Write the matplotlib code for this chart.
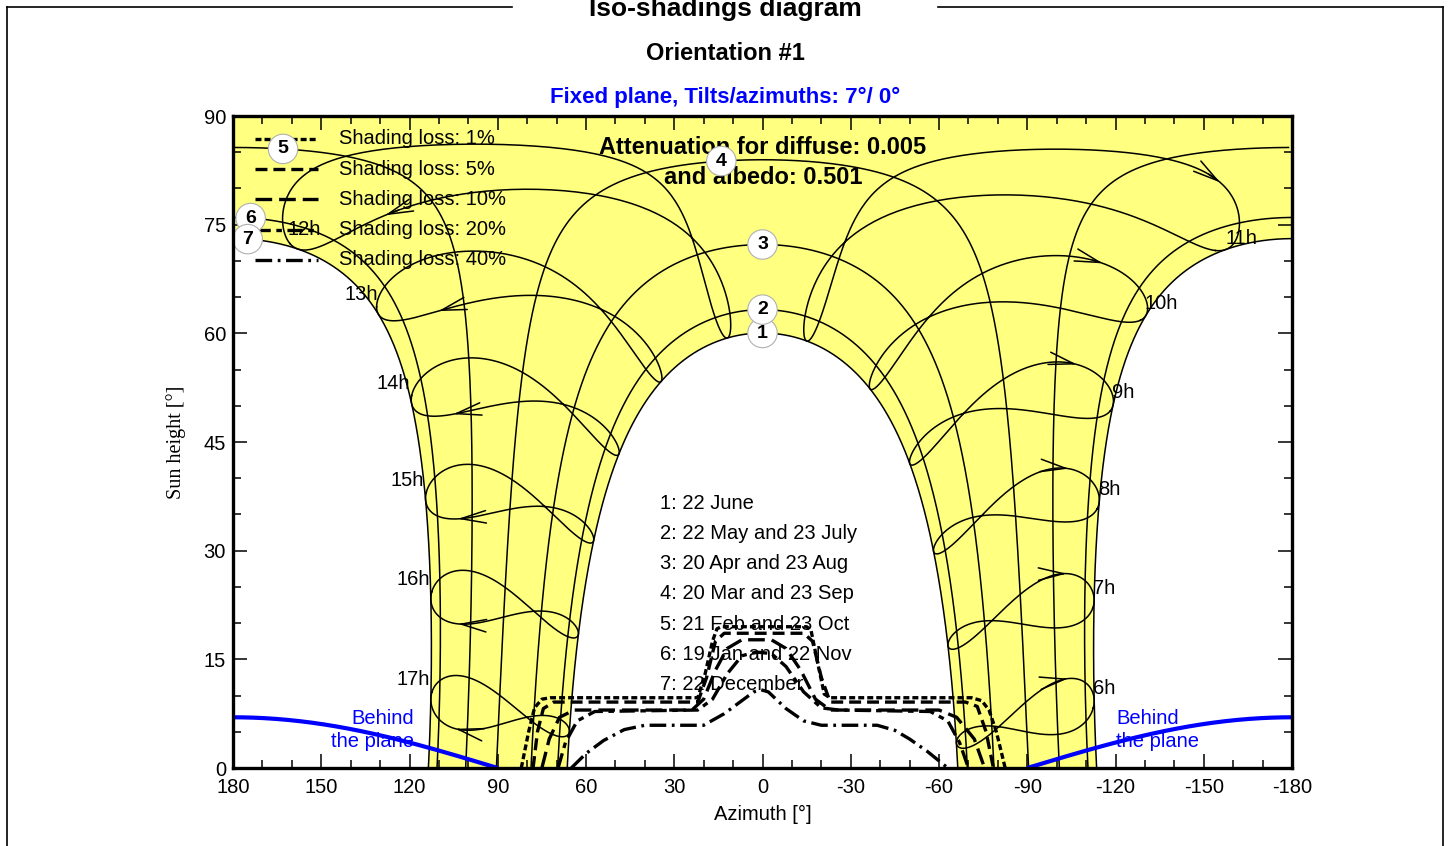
import matplotlib.pyplot as plt
import numpy as np
from matplotlib.lines import Line2D

plt.rcParams['font.family'] = ['Liberation Sans', 'DejaVu Sans']
plt.rcParams['lines.scale_dashes'] = False

# site and plane
LATITUDE = -6.5
LONGITUDE = 112.0
TIME_ZONE = 7.0
PLANE_TILT = 7.0

# reference days for the sun paths (day of year)
DATE_LABELS = ['22 June', '22 May and 23 July', '20 Apr and 23 Aug', '20 Mar and 23 Sep',
               '21 Feb and 23 Oct', '19 Jan and 22 Nov', '22 December']
DATE_DAYS = [173, 142, 110, 79, 52, 19, 356]
DATE_MARK_AZ = [0, 0, 0, 14, 163, 174, 175]

# legal hours drawn as analemmas
HOURS = [6, 7, 8, 9, 10, 11, 12, 13, 14, 15, 16, 17]

# iso-shading contours (azimuth, height)
SHADING_LABELS = ['Shading loss: 1%', 'Shading loss: 5%', 'Shading loss: 10%',
                  'Shading loss: 20%', 'Shading loss: 40%']
LOSS_1_AZ = [82, 79.5, 77.5, 75, 72, 22, 19.5, 17, 15.5, 14, -15, -16.5, -18.5, -21, -23, -71, -74.5, -77, -79.5, -82.5]
LOSS_1_H = [0, 5, 8.3, 9.5, 9.7, 9.7, 13, 17.5, 19.2, 19.5, 19.5, 19, 15, 10.2, 9.7, 9.7, 9.3, 8, 5, 0]
LOSS_5_AZ = [78, 76.5, 74.5, 71, 22, 19, 16, 13, -14, -17, -20, -23, -69, -73, -76, -78.5]
LOSS_5_H = [0, 5, 8.2, 9.1, 9.1, 12.5, 17.5, 18.6, 18.6, 17.5, 12.5, 9.1, 9.1, 8.5, 5, 0]
LOSS_10_AZ = [75, 72.5, 69, 64, 24, 20, 16, 12, 7, -3, -8, -13, -18, -23, -60, -66, -72, -75.5]
LOSS_10_H = [0, 4, 7, 8.0, 8.0, 9.5, 13.5, 16.5, 17.7, 17.7, 16.5, 13.5, 9.5, 8.0, 8.0, 7, 4, 0]
LOSS_20_AZ = [69.5, 67, 63, 57, 22, 17, 12, 7, 2, -3, -8, -14, -20, -26, -57, -63, -67, -70]
LOSS_20_H = [0, 3.5, 6.5, 7.8, 8.0, 9.5, 13, 15.5, 16.0, 15.8, 14, 10.5, 8.3, 8.0, 7.8, 6.5, 3.5, 0]
LOSS_40_AZ = [65, 60, 54, 47, 40, 20, 13, 7, 3, 0.5, -2, -8, -14, -20, -39, -45, -50, -56, -63]
LOSS_40_H = [0, 2, 3.8, 5.3, 5.9, 5.9, 7.5, 9.3, 10.5, 10.8, 10.5, 8.2, 6.5, 5.9, 5.9, 5.2, 4, 2.3, 0]
LOSS_AZ = [LOSS_1_AZ, LOSS_5_AZ, LOSS_10_AZ, LOSS_20_AZ, LOSS_40_AZ]
LOSS_H = [LOSS_1_H, LOSS_5_H, LOSS_10_H, LOSS_20_H, LOSS_40_H]
LOSS_DASHES = [(0, (4.3, 2.2)), (0, (8.6, 4.3)), (0, (12, 5)), (0, (11, 4, 4, 4)), (0, (12, 4, 2, 4))]

YELLOW = '#ffff80'
BLUE = '#0000ff'
FS = 14.5


def declination(day):
    b = 2 * np.pi * (np.asarray(day) - 1) / 365.0
    return np.degrees(0.006918 - 0.399912 * np.cos(b) + 0.070257 * np.sin(b)
                      - 0.006758 * np.cos(2 * b) + 0.000907 * np.sin(2 * b)
                      - 0.002697 * np.cos(3 * b) + 0.00148 * np.sin(3 * b))


def equation_of_time(day):
    b = 2 * np.pi * (np.asarray(day) - 1) / 365.0
    return 229.18 * (0.000075 + 0.001868 * np.cos(b) - 0.032077 * np.sin(b)
                     - 0.014615 * np.cos(2 * b) - 0.04089 * np.sin(2 * b))


def sun_position(decl, hour_angle):
    d = np.radians(decl)
    h = np.radians(hour_angle)
    p = np.radians(LATITUDE)
    west = np.cos(d) * np.sin(h)
    north = np.sin(d) * np.cos(p) - np.cos(d) * np.cos(h) * np.sin(p)
    up = np.sin(d) * np.sin(p) + np.cos(d) * np.cos(h) * np.cos(p)
    return np.degrees(np.arctan2(west, north)), np.degrees(np.arcsin(np.clip(up, -1, 1)))


def sunset_angle(decl):
    return np.degrees(np.arccos(-np.tan(np.radians(LATITUDE)) * np.tan(np.radians(decl))))


def hour_angle(hour, day):
    solar = hour + (LONGITUDE - 15 * TIME_ZONE) / 15.0 + equation_of_time(day) / 60.0
    return 15.0 * (solar - 12.0)


def split_wrap(az, alt):
    az = np.asarray(az, float).copy()
    alt = np.asarray(alt, float).copy()
    jumps = np.where(np.abs(np.diff(az)) > 90)[0]
    az = np.insert(az, jumps + 1, np.nan)
    alt = np.insert(alt, jumps + 1, np.nan)
    return az, alt


fig = plt.figure(figsize=(14.51, 8.46), dpi=100)
ax = fig.add_axes([233 / 1451, 78 / 846, 1059 / 1451, 652 / 846])
ax.set_xlim(180, -180)
ax.set_ylim(0, 90)

# area reached by the sun during the year
dec_june = declination(DATE_DAYS[0])
dec_dec = declination(DATE_DAYS[-1])
hs_dec = sunset_angle(dec_dec)
hs_june = sunset_angle(dec_june)
pm_az, pm_alt = sun_position(dec_dec, np.linspace(0, hs_dec, 300))
jn_az, jn_alt = sun_position(dec_june, np.linspace(hs_june, -hs_june, 600))
am_az, am_alt = sun_position(dec_dec, np.linspace(-hs_dec, -1e-9, 300))
poly_az = np.concatenate([pm_az, jn_az, am_az, [-180, 180]])
poly_alt = np.concatenate([pm_alt, jn_alt, am_alt, [90, 90]])
ax.fill(poly_az, poly_alt, color=YELLOW, lw=0, zorder=1)

# sun paths of the reference days
for k, day in enumerate(DATE_DAYS):
    dec = declination(day)
    hs = sunset_angle(dec)
    az, alt = sun_position(dec, np.linspace(-hs, hs, 2001))
    az, alt = split_wrap(az, alt)
    ax.plot(az, alt, color='black', lw=1.1, zorder=3)

    paz, palt = sun_position(dec, np.linspace(0, hs, 1000))
    order = np.argsort(paz)
    mark_alt = np.interp(DATE_MARK_AZ[k], paz[order], palt[order])
    ax.text(DATE_MARK_AZ[k], mark_alt, str(k + 1), ha='center', va='center', fontsize=14,
            weight='bold', zorder=8,
            bbox=dict(boxstyle='circle,pad=0.32', fc='white', ec='#b0b0b0', lw=0.8))

# hour lines (analemmas, legal time)
days = np.append(np.arange(1, 366), 1)
for hour in HOURS:
    az, alt = sun_position(declination(days), hour_angle(hour, days))
    alt = np.where(alt < -1, np.nan, alt)
    ax.plot(az, alt, color='black', lw=1.1, zorder=3)

    tip_az, tip_alt = sun_position(declination(307), hour_angle(hour, 307))
    tail_az, tail_alt = sun_position(declination(303), hour_angle(hour, 303))
    ax.annotate('', xy=(tip_az, tip_alt), xytext=(tail_az, tail_alt), zorder=4,
                arrowprops=dict(arrowstyle='->,head_length=1.8,head_width=0.45',
                                color='black', lw=1.1, shrinkA=0, shrinkB=0))

    lab_az, lab_alt = sun_position(declination(355), hour_angle(hour, 355))
    if hour < 12:
        ax.annotate(f'{hour}h', (lab_az, lab_alt), xytext=(-1, 8), textcoords='offset points',
                    ha='left', va='center', fontsize=FS, zorder=6)
    elif hour == 12:
        ax.annotate(f'{hour}h', (lab_az, lab_alt), xytext=(4, 14), textcoords='offset points',
                    ha='center', va='center', fontsize=FS, zorder=6)
    else:
        ax.annotate(f'{hour}h', (lab_az, lab_alt), xytext=(-1, 15), textcoords='offset points',
                    ha='right', va='center', fontsize=FS, zorder=6)

# horizon of the tilted plane
for side in (np.linspace(90, 180, 200), np.linspace(-90, -180, 200)):
    plane_alt = np.degrees(np.arctan(-np.tan(np.radians(PLANE_TILT)) * np.cos(np.radians(side))))
    ax.plot(side, plane_alt, color=BLUE, lw=3.0, zorder=5, solid_capstyle='butt')
ax.text(118.5, 5.2, 'Behind\nthe plane', color=BLUE, fontsize=FS, ha='right', va='center',
        linespacing=1.25, zorder=6)
ax.text(-120.2, 5.2, 'Behind\nthe plane', color=BLUE, fontsize=FS, ha='left', va='center',
        linespacing=1.25, zorder=6)

# iso-shading lines
for az, h, dash in zip(LOSS_AZ, LOSS_H, LOSS_DASHES):
    ax.plot(az, h, color='black', lw=2.4, linestyle=dash, zorder=6)

# key for the iso-shading lines
for i, (label, dash) in enumerate(zip(SHADING_LABELS, LOSS_DASHES)):
    y = 1 - (23 + 30.2 * i) / 652
    ax.plot([22 / 1059, 85 / 1059], [y, y], transform=ax.transAxes, color='black', lw=2.4,
            linestyle=dash, zorder=7)
    ax.text(106 / 1059, y, label, transform=ax.transAxes, fontsize=FS, va='center',
            ha='left', zorder=7)

# key for the sun paths
for k, label in enumerate(DATE_LABELS):
    ax.text(427 / 1059, (265 - 30.3 * k) / 652, f'{k + 1}: {label}', transform=ax.transAxes,
            fontsize=FS, va='center', ha='left', zorder=7)

ax.text(0.5005, (768 - 147) / 652, 'Attenuation for diffuse: 0.005', transform=ax.transAxes,
        fontsize=17, weight='bold', ha='center', va='center', zorder=7)
ax.text(0.5005, (768 - 177) / 652, 'and albedo: 0.501', transform=ax.transAxes,
        fontsize=17, weight='bold', ha='center', va='center', zorder=7)

ax.set_xticks(np.arange(180, -181, -30))
ax.set_xticklabels([str(v) for v in range(180, -181, -30)])
ax.set_xticks(np.arange(180, -181, -10), minor=True)
ax.set_yticks(np.arange(0, 91, 15))
ax.set_yticks(np.arange(0, 91, 5), minor=True)
ax.tick_params(which='both', direction='in', top=True, right=True, width=1.1,
               labelsize=FS)
ax.tick_params(which='major', length=10, pad=7)
ax.tick_params(axis='y', which='major', pad=5)
ax.tick_params(which='minor', length=5.5)
for spine in ax.spines.values():
    spine.set_linewidth(2.4)
    spine.set_zorder(9)

ax.set_xlabel('Azimuth [°]', fontsize=FS, labelpad=6)
ax.set_ylabel('Sun height [°]', fontsize=14.5, family=['Liberation Serif', 'DejaVu Serif'],
              labelpad=13)

# page frame and headings
for xs, ys in (([7, 512], [7, 7]), ([938, 1443], [7, 7]), ([7, 7], [7, 846]), ([1443, 1443], [7, 846])):
    fig.add_artist(Line2D([x / 1451 for x in xs], [1 - y / 846 for y in ys],
                          transform=fig.transFigure, color='black', lw=1.2))
fig.text(725 / 1451, 1 - 9 / 846, 'Iso-shadings diagram', ha='center', va='center',
         fontsize=19, weight='bold')
fig.text(725 / 1451, 1 - 54 / 846, 'Orientation #1', ha='center', va='center',
         fontsize=17, weight='bold')
fig.text(725 / 1451, 1 - 97 / 846, 'Fixed plane, Tilts/azimuths: 7°/ 0°', ha='center',
         va='center', fontsize=16, weight='bold', color=BLUE)

fig.savefig('out.png', dpi=100)
